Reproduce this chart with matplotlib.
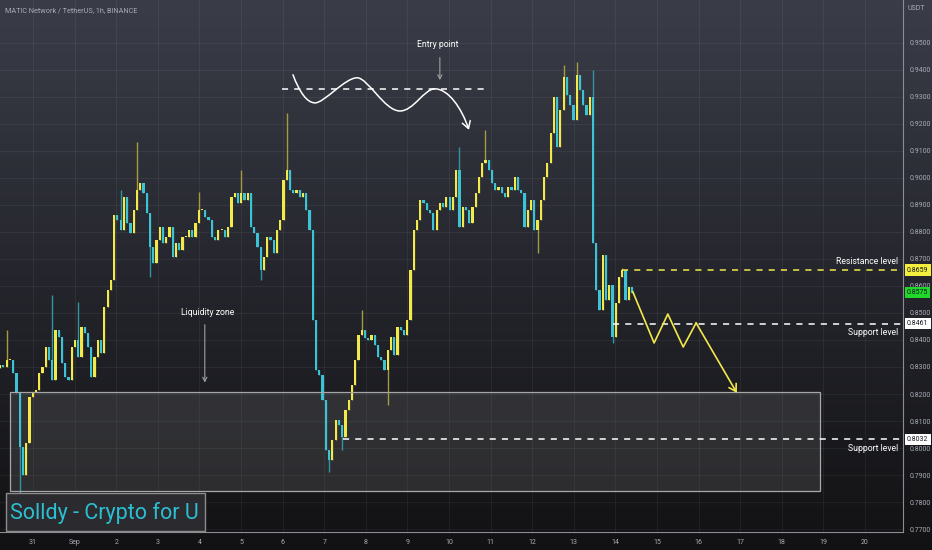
import numpy as np
import matplotlib
matplotlib.use("Agg")
import matplotlib.pyplot as plt
import matplotlib.transforms as mtransforms
from matplotlib.colors import LinearSegmentedColormap
from matplotlib.patches import Rectangle, FancyArrowPatch
from matplotlib.path import Path

plt.rcParams['font.family'] = ['Roboto', 'DejaVu Sans']

title = "MATIC Network / TetherUS, 1h, BINANCE"

# closes (about one every two hours, Aug 30 05:00 -> Sep 14 09:00)
closes = [
    0.8307, 0.8300, 0.8326, 0.8326, 0.8278, 0.8204, 0.8004, 0.7900, 0.8019, 0.8189,
    0.8207, 0.8215, 0.8278, 0.8300, 0.8374, 0.8326, 0.8252, 0.8437, 0.8411, 0.8315,
    0.8263, 0.8252, 0.8374, 0.8400, 0.8337, 0.8448, 0.8426, 0.8374, 0.8263, 0.8337,
    0.8400, 0.8352, 0.8522, 0.8585, 0.8622, 0.8863, 0.8844, 0.8807, 0.8930, 0.8833,
    0.8796, 0.8881, 0.8956, 0.8981, 0.8944, 0.8870, 0.8744, 0.8685, 0.8770, 0.8818,
    0.8759, 0.8781, 0.8818, 0.8707, 0.8759, 0.8733, 0.8781, 0.8781, 0.8807, 0.8781,
    0.8833, 0.8881, 0.8881, 0.8855, 0.8844, 0.8781, 0.8770, 0.8807, 0.8807, 0.8781,
    0.8818, 0.8930, 0.8944, 0.8907, 0.8944, 0.8918, 0.8944, 0.8818, 0.8796, 0.8744,
    0.8659, 0.8707, 0.8781, 0.8770, 0.8722, 0.8807, 0.8844, 0.8993, 0.9030, 0.8956,
    0.8944, 0.8956, 0.8930, 0.8944, 0.8881, 0.8807, 0.8474, 0.8289, 0.8270, 0.8178,
    0.7992, 0.7956, 0.8030, 0.8104, 0.8085, 0.8041, 0.8141, 0.8178, 0.8233, 0.8326,
    0.8418, 0.8437, 0.8408, 0.8400, 0.8418, 0.8381, 0.8337, 0.8326, 0.8289, 0.8363,
    0.8411, 0.8344, 0.8448, 0.8437, 0.8418, 0.8474, 0.8659, 0.8807, 0.8844, 0.8918,
    0.8907, 0.8881, 0.8870, 0.8807, 0.8881, 0.8907, 0.8893, 0.8930, 0.8881, 0.8930,
    0.9030, 0.8818, 0.8893, 0.8881, 0.8833, 0.8893, 0.8944, 0.9004, 0.9056, 0.9067,
    0.9030, 0.8981, 0.8956, 0.8967, 0.8944, 0.8930, 0.8967, 0.8956, 0.9004, 0.8956,
    0.8944, 0.8818, 0.8881, 0.8918, 0.8807, 0.8844, 0.8918, 0.9004, 0.9056, 0.9167,
    0.9300, 0.9115, 0.9252, 0.9374, 0.9308, 0.9271, 0.9215, 0.9382, 0.9326, 0.9271,
    0.9234, 0.9300, 0.8759, 0.8585, 0.8511, 0.8715, 0.8548, 0.8604, 0.8411, 0.8537,
    0.8633, 0.8659, 0.8548, 0.8597, 0.8575,
]
first_open = 0.8295
first_day, last_day = -0.79, 14.40   # days from Aug 31 00:00

# long wicks (day, price)
spike_day = [-0.60, -0.31, 0.46, 1.08, 2.09, 2.50, 2.81, 4.01, 4.98, 5.46, 6.11,
             7.14, 7.45, 7.93, 8.51, 10.26, 10.91, 12.12, 12.79, 13.10, 13.49, 13.94, 14.16]
spike_price = [0.8437, 0.7833, 0.8566, 0.8540, 0.8956, 0.9133, 0.8633, 0.8948, 0.9030, 0.8622, 0.9241,
               0.7911, 0.7992, 0.8511, 0.8159, 0.9115, 0.9178, 0.8722, 0.9419, 0.9430, 0.9400, 0.8389, 0.8667]

price_ticks = [0.77, 0.78, 0.79, 0.80, 0.81, 0.82, 0.83, 0.84, 0.85, 0.86,
               0.87, 0.88, 0.89, 0.90, 0.91, 0.92, 0.93, 0.94, 0.95]
day_ticks = list(range(0, 21))
day_labels = ['31', 'Sep'] + [str(d) for d in range(2, 21)]

resistance = 0.8659
support_hi = 0.8461
support_lo = 0.8032
last_price = 0.8575
zone_days = (-0.55, 18.92)
zone_prices = (0.7841, 0.8208)
entry_level = 0.9330

# ---------------------------------------------------------------
fig = plt.figure(figsize=(9.32, 5.5), dpi=100)
fig.patch.set_facecolor('#121214')

bg = fig.add_axes([0, 0, 1, 1], zorder=-5)
grad = LinearSegmentedColormap.from_list('tv', ['#3a3d48', '#25262d', '#121214'])
bg.imshow(np.linspace(0, 1, 256).reshape(-1, 1), cmap=grad, aspect='auto', extent=[0, 1, 0, 1])
bg.axis('off')

ax = fig.add_axes([0, 18 / 550, 903 / 932, 532 / 550])
ax.set_facecolor('none')
ax.set_xlim(-0.793, 20.913)
ax.set_ylim(0.7689, 0.9659)

ax.set_xticks(day_ticks)
ax.set_xticklabels(day_labels)
ax.set_yticks(price_ticks)
ax.set_yticklabels([f"{p:.4f}" for p in price_ticks])
ax.yaxis.tick_right()
ax.tick_params(axis='both', length=0, colors='#a9acb5', labelsize=5.0)
ax.tick_params(axis='x', pad=5)
ax.tick_params(axis='y', pad=5)
ax.grid(True, color='white', alpha=0.055, lw=0.8)
ax.set_axisbelow(True)
for s in ['top', 'left']:
    ax.spines[s].set_visible(False)
for s in ['right', 'bottom']:
    ax.spines[s].set_color('#8a8d96')
    ax.spines[s].set_linewidth(0.8)

# candles
n = len(closes)
xs = np.linspace(first_day, last_day, n)
step = xs[1] - xs[0]
opens = np.array([first_open] + closes[:-1])
cl = np.array(closes)
highs = np.maximum(opens, cl)
lows = np.minimum(opens, cl)
for d, p in zip(spike_day, spike_price):
    i = int(np.argmin(np.abs(xs - d)))
    if p > highs[i]:
        highs[i] = p
    elif p < lows[i]:
        lows[i] = p

up = cl >= opens
body_col = np.where(up, '#f3e94a', '#3cc3d6')
wick_col = np.where(up, '#a39c42', '#2f95a3')
ax.vlines(xs, lows, highs, colors=wick_col, lw=1.0, zorder=3)
ax.bar(xs, np.maximum(np.abs(cl - opens), 0.0004), bottom=np.minimum(opens, cl),
       width=step * 0.68, color=body_col, linewidth=0, zorder=4)

# liquidity zone
ax.add_patch(Rectangle((zone_days[0], zone_prices[0]), zone_days[1] - zone_days[0],
                       zone_prices[1] - zone_prices[0], facecolor='#8a8a8a', alpha=0.2,
                       edgecolor='none', zorder=2))
ax.add_patch(Rectangle((zone_days[0], zone_prices[0]), zone_days[1] - zone_days[0],
                       zone_prices[1] - zone_prices[0], facecolor='none',
                       edgecolor='#a8a8a8', lw=0.9, zorder=5))
ax.text(4.21, 0.8500, 'Liquidity zone', color='white', fontsize=6.2, ha='center', va='center')
ax.annotate('', xy=(4.13, 0.8232), xytext=(4.13, 0.8467),
            arrowprops=dict(arrowstyle='->,head_length=0.3,head_width=0.15', color='#a0a0a0', lw=0.8))

# levels
ax.hlines(resistance, 14.16, 20.913, colors='#f3e94a', linestyles=(0, (4, 4)), lw=1.1, zorder=6)
ax.hlines(support_hi, 13.94, 20.913, colors='white', linestyles=(0, (4, 4)), lw=1.1, zorder=6)
ax.hlines(support_lo, 7.45, 20.913, colors='white', linestyles=(0, (4, 4)), lw=1.1, zorder=6)
ax.text(20.79, 0.8689, 'Resistance level', color='white', fontsize=6.2, ha='right', va='center')
ax.text(20.79, 0.8426, 'Support level', color='white', fontsize=6.2, ha='right', va='center')
ax.text(20.79, 0.7997, 'Support level', color='white', fontsize=6.2, ha='right', va='center')

# projected path
zig_d = [14.42, 14.93, 15.26, 15.63, 15.94, 16.92]
zig_p = [0.8578, 0.8389, 0.8496, 0.8374, 0.8463, 0.8204]
ax.plot(zig_d[:-1], zig_p[:-1], color='#f3e94a', lw=1.2, zorder=7)
ax.add_patch(FancyArrowPatch((zig_d[-2], zig_p[-2]), (zig_d[-1], zig_p[-1]),
                             arrowstyle='->,head_length=5,head_width=3', color='#f3e94a',
                             lw=1.2, shrinkA=0, shrinkB=0, zorder=7))

# entry sketch
ax.hlines(entry_level, 5.99, 10.94, colors='white', linestyles=(0, (4, 4)), lw=1.1, zorder=6)
verts = [(6.25, 0.9382),
         (6.40, 0.9320), (6.58, 0.9278), (6.78, 0.9278),
         (7.00, 0.9278), (7.50, 0.9371), (7.79, 0.9371),
         (8.05, 0.9371), (8.45, 0.9248), (8.82, 0.9248),
         (9.15, 0.9248), (9.40, 0.9330), (9.66, 0.9330),
         (9.98, 0.9330), (10.30, 0.9260), (10.48, 0.9178)]
codes = [Path.MOVETO] + [Path.CURVE4] * 15
ax.add_patch(FancyArrowPatch(path=Path(verts, codes), arrowstyle='->,head_length=5,head_width=3',
                             color='white', lw=1.1, zorder=7))
ax.text(9.74, 0.9493, 'Entry point', color='white', fontsize=6.2, ha='center', va='center')
ax.annotate('', xy=(9.78, 0.9352), xytext=(9.78, 0.9456),
            arrowprops=dict(arrowstyle='->,head_length=0.3,head_width=0.15', color='#a0a0a0', lw=0.8))

# price tags on the axis
tr = mtransforms.blended_transform_factory(ax.transAxes, ax.transData)
for p, fc in [(resistance, '#f3ef3c'), (last_price, '#1fd82a'), (support_hi, 'white'), (support_lo, 'white')]:
    ax.text(1.0045, p, f"{p:.4f}", transform=tr, fontsize=5.0, color='#131722', ha='left', va='center',
            bbox=dict(boxstyle='square,pad=0.3', fc=fc, ec='none'), clip_on=False, zorder=10)

fig.text(908 / 932, 1 - 9 / 550, 'USDT', color='#a9acb5', fontsize=5.0, ha='left', va='center')
fig.text(5 / 932, 1 - 11 / 550, title, color='#a9acb5', fontsize=5.2, ha='left', va='center')

# signature box
fig.patches.append(Rectangle((6 / 932, 1 - 531 / 550), 199 / 932, 38 / 550, transform=fig.transFigure,
                             facecolor='#2b2b2f', edgecolor='#8c8c8c', lw=1.0, zorder=20))
fig.text(10 / 932, 1 - 513 / 550, 'Solldy - Crypto for U', color='#2bbfd2', fontsize=15.5,
         ha='left', va='center', zorder=21)

fig.savefig('out.png', dpi=100, facecolor=fig.get_facecolor())
